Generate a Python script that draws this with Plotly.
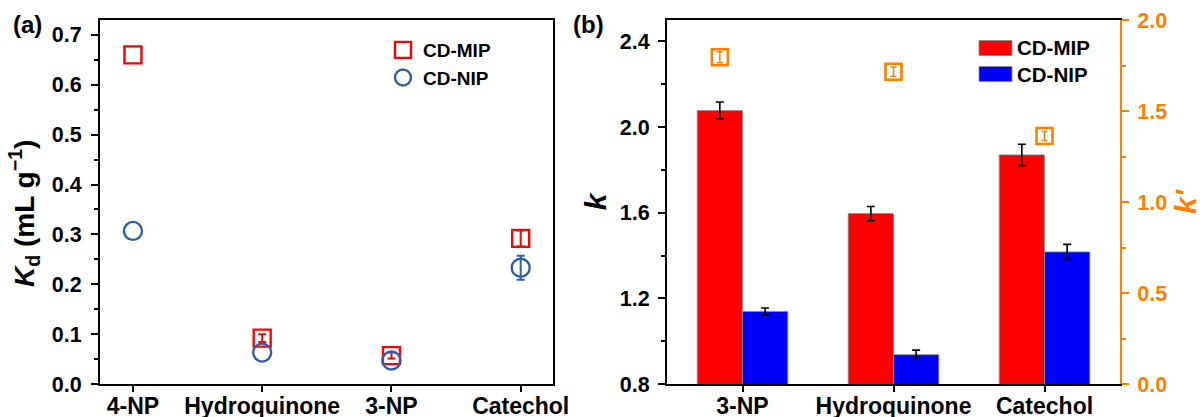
import numpy as np
import plotly.graph_objects as go

# ---------------- data ----------------
cats_a = ["4-NP", "Hydroquinone", "3-NP", "Catechol"]
kd_mip = [0.66, 0.092, 0.057, 0.292]
kd_mip_err = [None, 0.008, 0.006, 0.016]
kd_nip = [0.307, 0.063, 0.047, 0.233]
kd_nip_err = [None, None, None, 0.024]

cats_b = ["3-NP", "Hydroquinone", "Catechol"]
k_mip = [2.077, 1.596, 1.870]
k_mip_err = [0.040, 0.033, 0.050]
k_nip = [1.139, 0.937, 1.417]
k_nip_err = [0.016, 0.021, 0.035]
kprime = [1.795, 1.716, 1.363]
kprime_err = [0.030, 0.025, 0.025]

# ---------------- styling ----------------
W, H = 1202, 417
FONT = "Liberation Sans, Arial, sans-serif"
RED = "#ff0000"
BLUE = "#0000ff"
NIPBLUE = "#2f5fa6"
ORANGE = "#ff8000"
kprime_offset = [-0.15, 0.0, 0.0]

def px_x(p):
    return p / W

def px_y(p):
    return 1 - p / H

def err_arr(v):
    # missing error values -> NaN so no error bar is drawn
    return np.array([np.nan if e is None else e for e in v], dtype=float)

ydom = [px_y(384), px_y(20)]

fig = go.Figure()

xa = list(range(len(cats_a)))
fig.add_trace(go.Scatter(
    x=xa, y=kd_mip, mode="markers", name="CD-MIP",
    marker=dict(symbol="square-open", size=17, color=RED, line=dict(width=2.4, color=RED)),
    error_y=dict(type="data", array=err_arr(kd_mip_err), color=RED, thickness=2, width=4),
    xaxis="x", yaxis="y", legend="legend",
))
fig.add_trace(go.Scatter(
    x=xa, y=kd_nip, mode="markers", name="CD-NIP",
    marker=dict(symbol="circle-open", size=18, color=NIPBLUE, line=dict(width=2.4, color=NIPBLUE)),
    error_y=dict(type="data", array=err_arr(kd_nip_err), color=NIPBLUE, thickness=2, width=4),
    xaxis="x", yaxis="y", legend="legend",
))

xb = list(range(len(cats_b)))
fig.add_trace(go.Bar(
    x=xb, y=k_mip, name="CD-MIP", offsetgroup="mip",
    marker=dict(color=RED, line=dict(color="#8a8a8a", width=0.8)),
    error_y=dict(type="data", array=k_mip_err, color="black", thickness=1.6, width=4),
    xaxis="x2", yaxis="y2", showlegend=False, base=0,
))
fig.add_trace(go.Bar(
    x=xb, y=k_nip, name="CD-NIP", offsetgroup="nip",
    marker=dict(color=BLUE, line=dict(color="#8a8a8a", width=0.8)),
    error_y=dict(type="data", array=k_nip_err, color="black", thickness=1.6, width=4),
    xaxis="x2", yaxis="y2", showlegend=False, base=0,
))
fig.add_trace(go.Scatter(
    x=[i + o for i, o in zip(xb, kprime_offset)], y=kprime, mode="markers", name="k'",
    marker=dict(symbol="square-open", size=16, color=ORANGE, line=dict(width=2.6, color=ORANGE)),
    error_y=dict(type="data", array=kprime_err, color=ORANGE, thickness=1.5, width=3),
    xaxis="x2", yaxis="y3", showlegend=False,
))

tickfont = dict(family=FONT, size=21.5, color="black", weight="bold")
catfont = dict(family=FONT, size=23, color="black", weight="bold")

common_axis = dict(showline=True, linecolor="black", linewidth=2, ticks="outside",
                   tickwidth=2, tickcolor="black", showgrid=False, zeroline=False,
                   automargin=False)

fig.update_layout(
    template="none",
    width=W, height=H,
    margin=dict(l=0, r=0, t=0, b=0, pad=0),
    paper_bgcolor="white", plot_bgcolor="white",
    font=dict(family=FONT, color="black"),
    barmode="group", bargap=0.4, bargroupgap=0,
    xaxis=dict(domain=[px_x(100), px_x(553)], range=[-0.255, 3.25],
               tickvals=xa, ticktext=cats_a, ticklen=6, tickfont=catfont,
               ticklabelstandoff=-6,
               mirror=True, anchor="y", **common_axis),
    yaxis=dict(domain=ydom, range=[0, 0.73], dtick=0.1, tick0=0, tickformat=".1f",
               ticklen=7, tickfont=tickfont, mirror=True, anchor="x",
               ticklabelstandoff=5,
               minor=dict(dtick=0.05, ticks="outside", ticklen=4, tickwidth=2, tickcolor="black"),
               **common_axis),
    xaxis2=dict(domain=[px_x(667), px_x(1120)], range=[-0.5, 2.5],
                tickvals=xb, ticktext=cats_b, ticklen=6, tickfont=catfont,
                ticklabelstandoff=-6,
                mirror=True, anchor="y2", **common_axis),
    yaxis2=dict(domain=ydom, range=[0.8, 2.5], dtick=0.4, tick0=0.8, tickformat=".1f",
                ticklen=7, tickfont=tickfont, anchor="x2", ticklabelstandoff=4,
                minor=dict(dtick=0.2, ticks="outside", ticklen=4, tickwidth=2, tickcolor="black"),
                title=dict(text="<i>k</i>",
                           font=dict(family=FONT, size=30, color="black", weight="bold"),
                           standoff=4),
                **common_axis),
    yaxis3=dict(domain=ydom, range=[0, 2.0], dtick=0.5, tick0=0, tickformat=".1f",
                overlaying="y2", side="right", anchor="x2",
                showline=True, linecolor=ORANGE, linewidth=2, ticks="outside",
                tickwidth=2, tickcolor=ORANGE, ticklen=7, showgrid=False, zeroline=False,
                ticklabelstandoff=4, automargin=False,
                tickfont=dict(family=FONT, size=21.5, color=ORANGE, weight="bold"),
                minor=dict(dtick=0.25, ticks="outside", ticklen=4, tickwidth=2, tickcolor=ORANGE),
                title=dict(text="<i>k'</i>",
                           font=dict(family=FONT, size=30, color=ORANGE, weight="bold"),
                           standoff=14)),
    legend=dict(x=px_x(383), y=px_y(31), xanchor="left", yanchor="top",
                bgcolor="rgba(0,0,0,0)", borderwidth=0, tracegroupgap=0,
                font=dict(family=FONT, size=19, color="black", weight="bold")),
)

# y-axis title of panel (a)
fig.add_annotation(x=px_x(24), y=px_y(214), xref="paper", yref="paper",
                   text="<i>K</i><sub>d</sub> (mL g<sup>−1</sup>)", textangle=-90,
                   showarrow=False, xanchor="center", yanchor="middle",
                   font=dict(family=FONT, size=28, color="black", weight="bold"))

# panel labels
fig.add_annotation(x=px_x(11), y=px_y(25), xref="paper", yref="paper", text="<b>(a)</b>",
                   showarrow=False, xanchor="left", yanchor="middle",
                   font=dict(family=FONT, size=24, color="black"))
fig.add_annotation(x=px_x(571), y=px_y(25), xref="paper", yref="paper", text="<b>(b)</b>",
                   showarrow=False, xanchor="left", yanchor="middle",
                   font=dict(family=FONT, size=24, color="black"))

# legend for panel (b): colour boxes + text
leg_items = [("CD-MIP", RED, 48), ("CD-NIP", BLUE, 74)]
for label, col, yc in leg_items:
    fig.add_shape(type="rect", xref="paper", yref="paper",
                  x0=px_x(979), x1=px_x(1012), y0=px_y(yc + 7.5), y1=px_y(yc - 7.5),
                  fillcolor=col, line=dict(color="#8a8a8a", width=0.8))
    fig.add_annotation(x=px_x(1015), y=px_y(yc), xref="paper", yref="paper", text=label,
                       showarrow=False, xanchor="left", yanchor="middle",
                       font=dict(family=FONT, size=20.5, color="black", weight="bold"))

fig.write_html("out.html")
